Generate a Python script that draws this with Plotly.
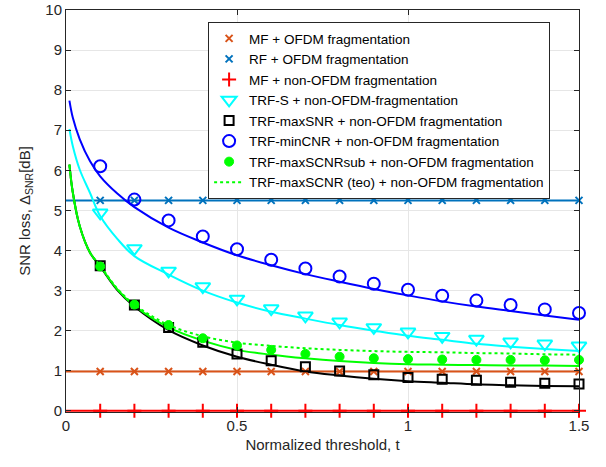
import plotly.graph_objects as go

# ---- data ----
t_markers = [0.1, 0.2, 0.3, 0.4, 0.5, 0.6, 0.7, 0.8, 0.9, 1.0, 1.1, 1.2, 1.3, 1.4, 1.5]
t_ref = [0.0, 1.5]
mf_ofdm_level = [0.98, 0.98]
rf_ofdm_level = [5.25, 5.25]
mf_nonofdm_level = [0.0, 0.0]

mf_ofdm = [0.98] * 15
rf_ofdm = [5.25] * 15
mf_nonofdm = [0.0] * 15
trf_s = [4.94, 4.05, 3.49, 3.10, 2.79, 2.55, 2.37, 2.22, 2.08, 1.97, 1.86, 1.79, 1.72, 1.67, 1.62]
trf_maxsnr = [3.62, 2.64, 2.08, 1.71, 1.42, 1.25, 1.10, 0.99, 0.90, 0.83, 0.79, 0.76, 0.71, 0.69, 0.67]
trf_mincnr = [6.10, 5.27, 4.75, 4.35, 4.03, 3.77, 3.55, 3.35, 3.17, 3.02, 2.87, 2.75, 2.64, 2.53, 2.44]
trf_maxscnrsub = [3.60, 2.65, 2.14, 1.81, 1.63, 1.52, 1.42, 1.35, 1.31, 1.29, 1.28, 1.27, 1.27, 1.26, 1.27]

t_curve = [0.01, 0.02, 0.04, 0.07, 0.1, 0.15, 0.2, 0.3, 0.4, 0.5, 0.6, 0.7, 0.8, 0.9, 1.0, 1.1, 1.2, 1.3, 1.4, 1.5]
curve_mincnr = [7.74, 7.31, 6.78, 6.23, 5.85, 5.42, 5.08, 4.57, 4.20, 3.88, 3.63, 3.41, 3.22, 3.04, 2.88, 2.73, 2.60, 2.49, 2.38, 2.27]
curve_s = [7.03, 6.60, 6.02, 5.44, 4.86, 4.29, 3.86, 3.40, 3.00, 2.70, 2.47, 2.30, 2.14, 2.00, 1.87, 1.77, 1.67, 1.60, 1.54, 1.49]
curve_maxscnr = [6.14, 5.44, 4.61, 3.95, 3.61, 3.03, 2.62, 2.08, 1.75, 1.52, 1.40, 1.31, 1.24, 1.19, 1.16, 1.15, 1.14, 1.13, 1.13, 1.12]
curve_maxsnr = [6.14, 5.44, 4.61, 3.95, 3.60, 3.01, 2.60, 2.01, 1.63, 1.35, 1.15, 0.98, 0.88, 0.80, 0.74, 0.70, 0.66, 0.64, 0.62, 0.61]
curve_teo = [6.14, 5.44, 4.61, 3.95, 3.62, 3.05, 2.65, 2.14, 1.86, 1.70, 1.62, 1.56, 1.52, 1.49, 1.47, 1.46, 1.44, 1.43, 1.41, 1.40]

x_ticks = [0, 0.5, 1, 1.5]
x_tick_labels = ["0", "0.5", "1", "1.5"]
y_ticks = [0, 1, 2, 3, 4, 5, 6, 7, 8, 9, 10]

ORANGE = "#D95319"
MBLUE = "#0072BD"
RED = "#FF0000"
CYAN = "#00FFFF"
BLUE = "#0000FF"
GREEN = "#00FF00"
BLACK = "#000000"

fig = go.Figure()

# reference lines (no legend)
for lvl, col in [(mf_ofdm_level, ORANGE), (rf_ofdm_level, MBLUE), (mf_nonofdm_level, RED)]:
    fig.add_trace(go.Scatter(x=t_ref, y=lvl, mode="lines", line=dict(color=col, width=2),
                             showlegend=False, hoverinfo="skip"))

# fitted curves (no legend)
for cv, col in [(curve_mincnr, BLUE), (curve_s, CYAN), (curve_maxsnr, BLACK), (curve_maxscnr, GREEN)]:
    fig.add_trace(go.Scatter(x=t_curve, y=cv, mode="lines", line=dict(color=col, width=2, shape="spline"),
                             showlegend=False, hoverinfo="skip"))

# markers with legend
fig.add_trace(go.Scatter(x=t_markers, y=mf_ofdm, mode="markers", name="MF + OFDM fragmentation", cliponaxis=False,
                         marker=dict(symbol="x-thin", size=7, line=dict(color=ORANGE, width=2))))
fig.add_trace(go.Scatter(x=t_markers, y=rf_ofdm, mode="markers", name="RF + OFDM fragmentation", cliponaxis=False,
                         marker=dict(symbol="x-thin", size=7, line=dict(color=MBLUE, width=2))))
fig.add_trace(go.Scatter(x=t_markers, y=mf_nonofdm, mode="markers", name="MF + non-OFDM fragmentation", cliponaxis=False,
                         marker=dict(symbol="cross-thin", size=10, line=dict(color=RED, width=2))))
fig.add_trace(go.Scatter(x=t_markers, y=trf_s, mode="markers", name="TRF-S + non-OFDM-fragmentation", cliponaxis=False,
                         marker=dict(symbol="triangle-down-open", size=13, color=CYAN, line=dict(color=CYAN, width=2))))
fig.add_trace(go.Scatter(x=t_markers, y=trf_maxsnr, mode="markers", name="TRF-maxSNR + non-OFDM fragmentation", cliponaxis=False,
                         marker=dict(symbol="square-open", size=9, color=BLACK, line=dict(color=BLACK, width=2))))
fig.add_trace(go.Scatter(x=t_markers, y=trf_mincnr, mode="markers", name="TRF-minCNR + non-OFDM fragmentation", cliponaxis=False,
                         marker=dict(symbol="circle-open", size=12, color=BLUE, line=dict(color=BLUE, width=2))))
fig.add_trace(go.Scatter(x=t_markers, y=trf_maxscnrsub, mode="markers", name="TRF-maxSCNRsub + non-OFDM fragmentation", cliponaxis=False,
                         marker=dict(symbol="circle", size=9, color=GREEN, line=dict(color=GREEN, width=1))))
fig.add_trace(go.Scatter(x=t_curve, y=curve_teo, mode="lines", name="TRF-maxSCNR (teo) + non-OFDM fragmentation",
                         line=dict(color=GREEN, width=2, dash="dot", shape="spline")))

axis_common = dict(showline=True, linecolor="#262626", linewidth=1, mirror="ticks",
                   ticks="inside", ticklen=5, tickcolor="#262626", automargin=False,
                   showgrid=True, gridcolor="#E6E6E6", gridwidth=1, zeroline=False,
                   tickfont=dict(family="Liberation Sans, Arial", size=15, color="#262626"))

fig.update_layout(
    width=606, height=467,
    margin=dict(l=66, r=27, t=10, b=55),
    paper_bgcolor="white", plot_bgcolor="white",
    font=dict(family="Liberation Sans, Arial", color="#262626"),
    xaxis=dict(range=[0, 1.5], tickvals=x_ticks, ticktext=x_tick_labels,
               title=dict(text="Normalized threshold, t", font=dict(size=15), standoff=6), **axis_common),
    yaxis=dict(range=[-0.03, 10], tickvals=y_ticks,
               title=dict(text="SNR loss, Δ<sub>SNR</sub>[dB]", font=dict(size=15), standoff=11), **axis_common),
    legend=dict(x=0.277, y=0.97, xanchor="left", yanchor="top", bgcolor="white",
                bordercolor="#262626", borderwidth=1, tracegroupgap=0,
                font=dict(family="Liberation Sans, Arial", size=13.5, color="#000000")),
    showlegend=True,
)

fig.write_html("out.html", post_script="document.body.style.margin='0';",
               config={"displayModeBar": False})
